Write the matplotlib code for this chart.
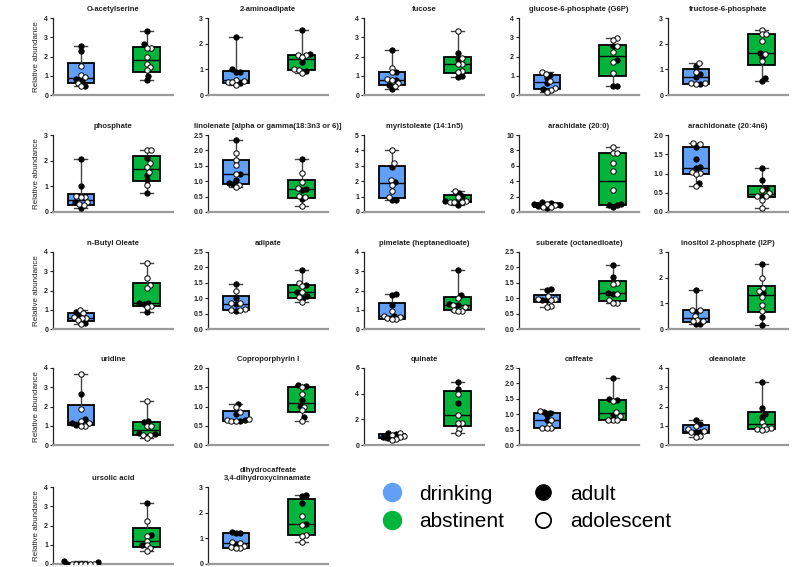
import numpy as np
import matplotlib
matplotlib.use('Agg')
import matplotlib.pyplot as plt
from matplotlib import cbook
from matplotlib.lines import Line2D

plt.rcParams['font.family'] = ['Liberation Sans', 'DejaVu Sans']

# ---- data (relative abundance) ----
titles = ['O-acetylserine', '2-aminoadipate', 'fucose', 'glucose-6-phosphate (G6P)',
          'fructose-6-phosphate', 'phosphate', 'linolenate [alpha or gamma(18:3n3 or 6)]',
          'myristoleate (14:1n5)', 'arachidate (20:0)', 'arachidonate (20:4n6)',
          'n-Butyl Oleate', 'adipate', 'pimelate (heptanedioate)', 'suberate (octanedioate)',
          'inositol 2-phosphate (I2P)', 'uridine', 'Coproporphyrin I', 'quinate',
          'caffeate', 'oleanolate', 'ursolic acid', 'dihydrocaffeate\n3,4-dihydroxycinnamate']
ymax = [4, 3, 4, 4, 3, 3, 2.5, 5, 10, 2.0, 4, 2.5, 4, 2.5, 3, 4, 2.0, 6, 2.5, 4, 4, 3]
ystep = [1, 1, 1, 1, 1, 1, 0.5, 1, 2, 0.5, 1, 0.5, 1, 0.5, 1, 1, 0.5, 2, 0.5, 1, 1, 1]

drinking_adult = [
    [2.56, 2.27, 0.84, 0.78, 0.48],
    [2.25, 1.0, 0.9, 0.9, 0.47],
    [2.32, 1.18, 0.8, 0.5, 0.31],
    [1.03, 0.88, 0.62, 0.3],
    [1.12, 0.8, 0.71, 0.44],
    [2.05, 1.0, 0.38, 0.15],
    [2.34, 1.25, 1.03, 0.95, 0.9],
    [2.9, 1.98, 0.8, 0.76],
    [1.25, 1.15, 1.0, 0.9, 0.75, 0.5],
    [1.7, 1.38, 1.17, 1.13, 0.76],
    [0.9, 0.72, 0.33],
    [1.45, 1.0, 0.8, 0.6],
    [1.8, 1.75, 1.25, 0.7],
    [1.31, 1.28, 0.95, 0.93],
    [1.51, 0.68, 0.2, 0.18],
    [2.65, 1.36, 1.13, 1.05],
    [1.07, 0.81, 0.64, 0.63],
    [0.9, 0.85, 0.62, 0.55],
    [1.07, 1.05, 0.96, 0.8],
    [1.3, 1.08, 0.68, 0.65],
    [0.16, 0.08, 0.02],
    [1.26, 1.22, 1.2, 0.78],
]
drinking_adol = [
    [1.49, 1.02, 0.91, 0.64, 0.46],
    [0.58, 0.55, 0.5, 0.49, 0.39],
    [1.41, 1.17, 0.82, 0.77, 0.6, 0.47],
    [1.22, 1.1, 0.75, 0.36, 0.27, 0.17],
    [1.25, 0.9, 0.46, 0.45, 0.43],
    [0.61, 0.6, 0.57, 0.38, 0.3, 0.26],
    [1.9, 1.68, 1.54, 1.25, 0.88, 0.8],
    [4.02, 3.15, 2.1, 1.78, 1.35, 0.98],
    [1.1, 0.85, 0.7, 0.6],
    [1.78, 1.76, 1.04, 1.02, 1.0, 0.68],
    [1.0, 0.82, 0.6, 0.57, 0.55, 0.45, 0.28],
    [1.25, 0.84, 0.83, 0.65, 0.62, 0.63],
    [0.92, 0.7, 0.6, 0.55, 0.52, 0.5],
    [1.06, 0.99, 0.99, 0.93, 0.75, 0.71],
    [0.75, 0.74, 0.49, 0.35, 0.33, 0.31],
    [3.69, 1.88, 1.25, 1.12, 1.0, 0.99],
    [0.98, 0.85, 0.68, 0.64, 0.63, 0.62],
    [0.95, 0.8, 0.7, 0.6, 0.5, 0.4],
    [1.1, 0.8, 0.66, 0.56, 0.55, 0.54],
    [1.0, 0.82, 0.75, 0.65, 0.45, 0.42],
    [0.01, 0.01, 0.0, 0.0, 0.0, 0.0],
    [0.87, 0.83, 0.7, 0.65, 0.61, 0.61],
]
abstinent_adult = [
    [3.3, 2.63, 0.98, 0.77],
    [2.54, 1.6, 1.3, 0.93],
    [2.18, 1.89, 0.98, 0.93],
    [2.52, 1.84, 0.46, 0.46],
    [1.65, 1.48, 0.67, 0.55],
    [2.11, 1.43, 1.24, 0.74],
    [1.72, 0.76, 0.71, 0.41],
    [1.24, 1.02, 0.72, 0.48],
    [1.1, 0.9, 0.9, 0.7],
    [1.15, 0.84, 0.63, 0.42],
    [1.36, 1.35, 1.32, 0.9],
    [1.93, 1.42, 1.2, 1.07, 1.0],
    [3.04, 1.77, 1.28, 1.25],
    [2.08, 1.7, 1.15, 1.16],
    [2.53, 1.41, 0.46, 0.17],
    [1.25, 1.17, 0.6, 0.56],
    [1.57, 1.52, 1.18, 0.72, 1.02],
    [4.88, 4.36, 3.26],
    [2.16, 1.48, 1.46, 0.99],
    [3.25, 1.91, 1.62, 1.48],
    [3.15, 1.5, 1.0],
    [2.7, 2.66, 2.37, 1.55],
]
abstinent_adol = [
    [2.46, 2.44, 1.97, 1.63, 1.44, 1.29],
    [1.57, 1.57, 1.48, 1.0, 0.98, 0.86],
    [3.3, 1.94, 1.63, 1.6, 1.24, 1.2],
    [2.96, 2.84, 2.52, 2.23, 1.72, 1.15],
    [2.55, 2.36, 2.36, 2.12, 1.61, 1.31],
    [2.41, 2.41, 1.89, 1.76, 1.57, 1.04],
    [1.27, 0.98, 0.78, 0.52, 0.49, 0.2],
    [1.35, 0.98, 0.7, 0.68, 0.66, 0.63],
    [8.4, 7.7, 7.7, 6.4, 5.3, 2.8],
    [0.57, 0.5, 0.42, 0.42, 0.3, 0.11],
    [3.43, 2.64, 2.3, 2.15, 1.2, 1.15],
    [1.49, 1.38, 1.2, 1.03, 0.87],
    [1.6, 1.27, 1.13, 1.0, 0.96, 0.93],
    [1.5, 1.45, 1.15, 0.93, 0.86, 0.86],
    [1.97, 1.58, 1.49, 1.25, 0.95, 0.72],
    [2.26, 1.0, 1.0, 0.52, 0.52, 0.38],
    [1.5, 1.32, 1.0, 0.91, 0.63],
    [4.0, 2.35, 1.72, 1.68, 1.22, 0.9],
    [1.43, 1.07, 0.93, 0.82, 0.82, 0.82],
    [1.22, 1.0, 0.87, 0.84, 0.82, 0.8],
    [2.24, 1.48, 1.22, 0.97, 0.83, 0.69],
    [1.88, 1.53, 1.13, 1.1, 0.85],
]

BLUE = '#62a0f8'
GREEN = '#00b43c'

W, H = 800, 567
lefts = [53, 208, 364, 519, 668]
tops = [18, 135, 252, 368, 487]
aw, ah = 120, 77
xlo, xhi = 0.58, 2.4


def box_stats(vals):
    s = cbook.boxplot_stats(vals, whis=(0, 100))[0]
    s['q1'], s['q3'] = np.percentile(vals, [25, 75], method='weibull')
    s['fliers'] = []
    return s


def swarm(vals, ppu, d=4.2):
    # simple beeswarm in pixel units, returns x offsets in pixels
    vals = np.asarray(vals)
    offs = np.zeros(len(vals))
    placed = []
    cands = [0.0]
    for k in np.arange(0.5, 40, 0.5):
        cands += [k, -k]
    for i in np.argsort(vals):
        y = vals[i] * ppu
        for c in cands:
            if all((c - px) ** 2 + (y - py) ** 2 >= d * d for px, py in placed):
                break
        placed.append((c, y))
        offs[i] = c
    return offs


fig = plt.figure(figsize=(8, 5.67), dpi=100)

for i, title in enumerate(titles):
    r, c = divmod(i, 5)
    ax = fig.add_axes([lefts[c] / W, 1 - (tops[r] + ah) / H, aw / W, ah / H])

    groups = [(drinking_adult[i], drinking_adol[i]), (abstinent_adult[i], abstinent_adol[i])]
    stats = [box_stats(a + b) for a, b in groups]
    bp = ax.bxp(stats, positions=[1, 2], widths=0.4, capwidths=0.2, patch_artist=True,
                showfliers=False,
                boxprops=dict(edgecolor='black', linewidth=1.3),
                medianprops=dict(color='black', linewidth=1.0),
                whiskerprops=dict(color='#444444', linewidth=1.0),
                capprops=dict(color='#444444', linewidth=1.0))
    for patch, col in zip(bp['boxes'], [BLUE, GREEN]):
        patch.set_facecolor(col)

    ppu = ah / ymax[i]
    xpp = (xhi - xlo) / aw
    for pos, (adult, adol) in zip([1, 2], groups):
        vals = adult + adol
        offs = swarm(vals, ppu)
        xs = pos + offs * xpp
        na = len(adult)
        ax.scatter(xs[:na], adult, s=15, facecolor='black', edgecolor='black',
                   linewidth=0.6, zorder=5)
        ax.scatter(xs[na:], adol, s=15, facecolor='white', edgecolor='black',
                   linewidth=0.7, zorder=5)

    ax.set_xlim(xlo, xhi)
    ax.set_ylim(0, ymax[i])
    ticks = np.arange(0, ymax[i] + 1e-9, ystep[i])
    ax.set_yticks(ticks)
    if ystep[i] < 1:
        ax.set_yticklabels(['%.1f' % t for t in ticks])
    else:
        ax.set_yticklabels(['%d' % t for t in ticks])
    ax.set_xticks([])
    for lab in ax.get_yticklabels():
        lab.set_fontweight('bold')
    ax.tick_params(axis='y', length=2.5, width=0.8, labelsize=5, pad=1, colors='#222222')
    ax.spines['top'].set_visible(False)
    ax.spines['right'].set_visible(False)
    ax.spines['left'].set_color('#222222')
    ax.spines['left'].set_linewidth(0.9)
    ax.spines['bottom'].set_color('#9a9a9a')
    ax.spines['bottom'].set_linewidth(1.6)
    ax.set_title(title, fontsize=5.5, fontweight='bold', pad=5, color='#222222',
                 linespacing=1.15)
    if c == 0:
        ax.set_ylabel('Relative abundance', fontsize=5.8, labelpad=3, color='#222222')

handles = [
    Line2D([], [], ls='', marker='o', markersize=13, mfc=BLUE, mec=BLUE),
    Line2D([], [], ls='', marker='o', markersize=13, mfc=GREEN, mec=GREEN),
    Line2D([], [], ls='', marker='o', markersize=11, mfc='black', mec='black'),
    Line2D([], [], ls='', marker='o', markersize=11, mfc='white', mec='black', mew=1.3),
]
fig.legend(handles, ['drinking', 'abstinent', 'adult', 'adolescent'], ncol=2,
           loc='upper left', bbox_to_anchor=(352 / W, 1 - 466 / H), frameon=False,
           fontsize=15, handletextpad=0.3, columnspacing=0.9, labelspacing=0.4)

fig.savefig('out.png', dpi=100)
